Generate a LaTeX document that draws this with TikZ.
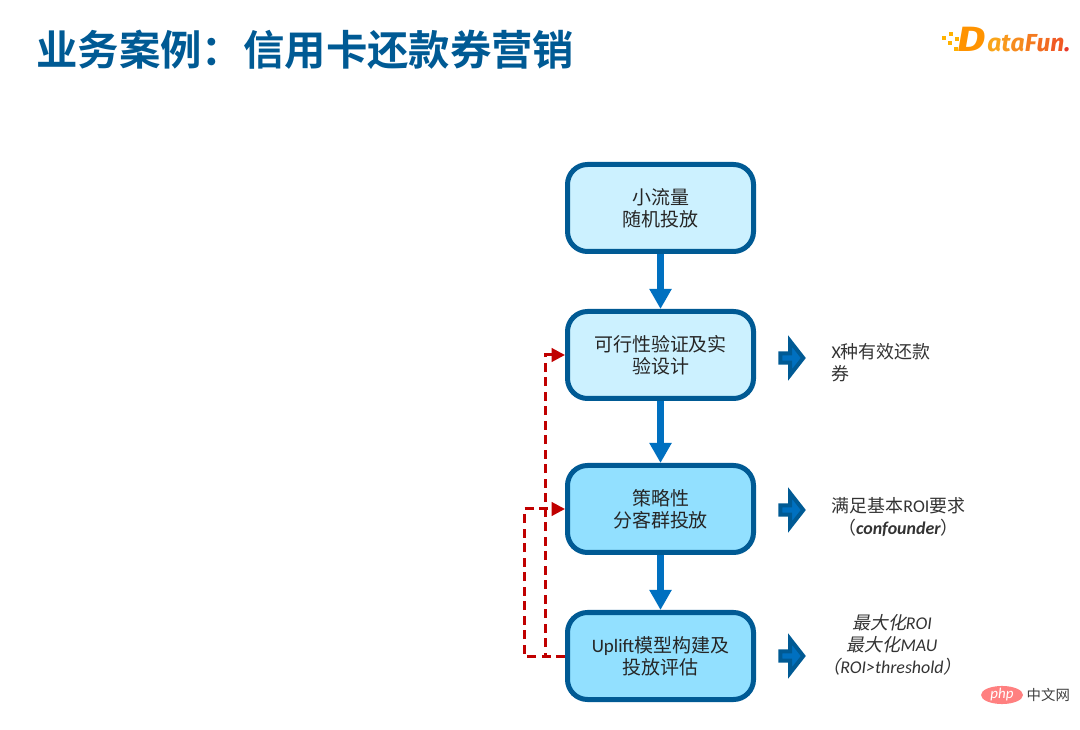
\documentclass[tikz,border=0pt]{standalone}
\usepackage{fontspec}
\usetikzlibrary{arrows.meta,positioning,shapes.arrows,shapes.geometric}
\setmainfont{Carlito}
\newfontfamily\cjk{Noto Sans CJK SC}
\newfontfamily\cjkbold{Noto Sans CJK SC Bold}
\newfontfamily\cjkit[FakeSlant=0.2]{Noto Sans CJK SC}
\newfontfamily\logofont{Fira Sans}
\definecolor{titleblue}{HTML}{005A94}
\definecolor{flowblue}{HTML}{0070C0}
\definecolor{paleblue}{HTML}{CCF1FF}
\definecolor{skyblue}{HTML}{92E0FF}
\definecolor{loopred}{HTML}{C00000}
\tikzset{stagebox/.style={draw = titleblue, line width = 0.1cm, rounded corners = 0.4cm, minimum width = 3.72cm, minimum height = 1.74cm, align = center, text = black!85, font = \fontsize{10.8}{12.5}\selectfont}}
\tikzset{flowline/.style={draw = flowblue, line width = 0.14cm, -{Triangle[length = 0.4cm, width = 0.42cm]}}}
\tikzset{loopline/.style={draw = loopred, line width = 0.06cm, dash pattern = on 0.18cm off 0.11cm, -{Triangle[length = 0.27cm, width = 0.27cm]}}}
\tikzset{blockarrow/.style={shape = single arrow, draw = titleblue, fill = flowblue, line width = 0.08cm, minimum width = 0.68cm, minimum height = 0.46cm, single arrow head extend = 0.11cm, single arrow tip angle = 104, single arrow head indent = 0cm, inner sep = 0pt}}
\tikzset{resulttext/.style={align = center, font = \fontsize{10.2}{12.5}\selectfont, text = black!80}}

\begin{document}
\begin{tikzpicture}[node distance = 2.94cm]
  \useasboundingbox (0,0) rectangle (21.6,14.58);

  \node (title) [anchor = west, inner sep = 0pt, text = titleblue, font = \fontsize{23.55}{26}\selectfont\cjkbold] at (0.72,13.58) {业务案例：信用卡还款券营销};

  % logo
  \foreach \x/\y in {18.84/13.78, 18.98/13.86, 18.96/13.68, 19.1/13.76, 19.08/13.56, 19.24/13.88}
    \fill [color = orange!60!yellow] (\x,\y) rectangle ++(0.08,0.08);
  \node (logod) [anchor = base west, inner sep = 0pt, xscale = 1.25, transform shape, text = orange!85!yellow, font = \fontsize{20}{22}\logofont\bfseries\itshape] at (19.14,13.54) {D};
  \node (logotext) [anchor = base west, inner sep = 0pt, font = \fontsize{14}{17}\logofont\bfseries\itshape] at (19.74,13.54) {\textcolor[HTML]{F9A51A}{a}\textcolor[HTML]{F8981D}{t}\textcolor[HTML]{F68B1F}{a}\textcolor[HTML]{F47B20}{F}\textcolor[HTML]{F26C22}{u}\textcolor[HTML]{F05A24}{n}\textcolor[HTML]{E8392A}{.}};

  \node (traffic) [stagebox, fill = paleblue] at (13.21,10.42) {\cjk 小流量\\\cjk 随机投放};
  \node (check) [stagebox, fill = paleblue, below of = traffic] {\cjk 可行性验证及实\\\cjk 验设计};
  \node (plan) [stagebox, fill = skyblue, node distance = 3.08cm, below of = check] {\cjk 策略性\\\cjk 分客群投放};
  \node (uplift) [stagebox, fill = skyblue, below of = plan] {Uplift{\cjk 模型构建及}\\\cjk 投放评估};

  \path (traffic) edge[flowline] (check);
  \path (check) edge[flowline] (plan);
  \path (plan) edge[flowline] (uplift);

  \node (arrowa) [blockarrow, node distance = 2.59cm, right of = check, yshift = -0.06cm] {};
  \node (arrowb) [blockarrow, node distance = 2.59cm, right of = plan, yshift = -0.02cm] {};
  \node (arrowc) [blockarrow, node distance = 2.59cm, right of = uplift] {};

  \node (resulta) [resulttext, align = left, node distance = 4.41cm, right of = check, yshift = -0.16cm] {X{\cjk 种有效还款}\\\cjk 券};
  \node (resultb) [resulttext, node distance = 4.76cm, right of = plan, yshift = -0.16cm] {{\cjk 满足基本}ROI{\cjk 要求}\\{\cjk （}\textbf{\textit{confounder}}{\cjk ）}};
  \node (resultc) [resulttext, node distance = 4.63cm, right of = uplift, yshift = 0.22cm] {{\cjkit 最大化}\textit{ROI}\\{\cjkit 最大化}\textit{MAU}\\{\cjkit （}\textit{ROI>threshold}{\cjkit ）}};

  \coordinate [left = 0.4cm of uplift.west] (inner);
  \coordinate [left = 0.82cm of uplift.west] (outer);
  \draw [loopline] (uplift.west) -- (inner) |- (check.west);
  \draw [loopline] (uplift.west) -- (outer) |- (plan.west);

  % watermark
  \node (phplogo) [shape = ellipse, fill = red!50!white, minimum width = 0.84cm, minimum height = 0.36cm, inner sep = 0pt, text = white, font = \fontsize{8.5}{9}\selectfont\itshape] at (20.04,0.68) {php};
  \node (phptext) [right = 0.06cm of phplogo, inner sep = 0pt, text = black!75, font = \fontsize{8.2}{9}\selectfont\cjk] {中文网};
\end{tikzpicture}
\end{document}
